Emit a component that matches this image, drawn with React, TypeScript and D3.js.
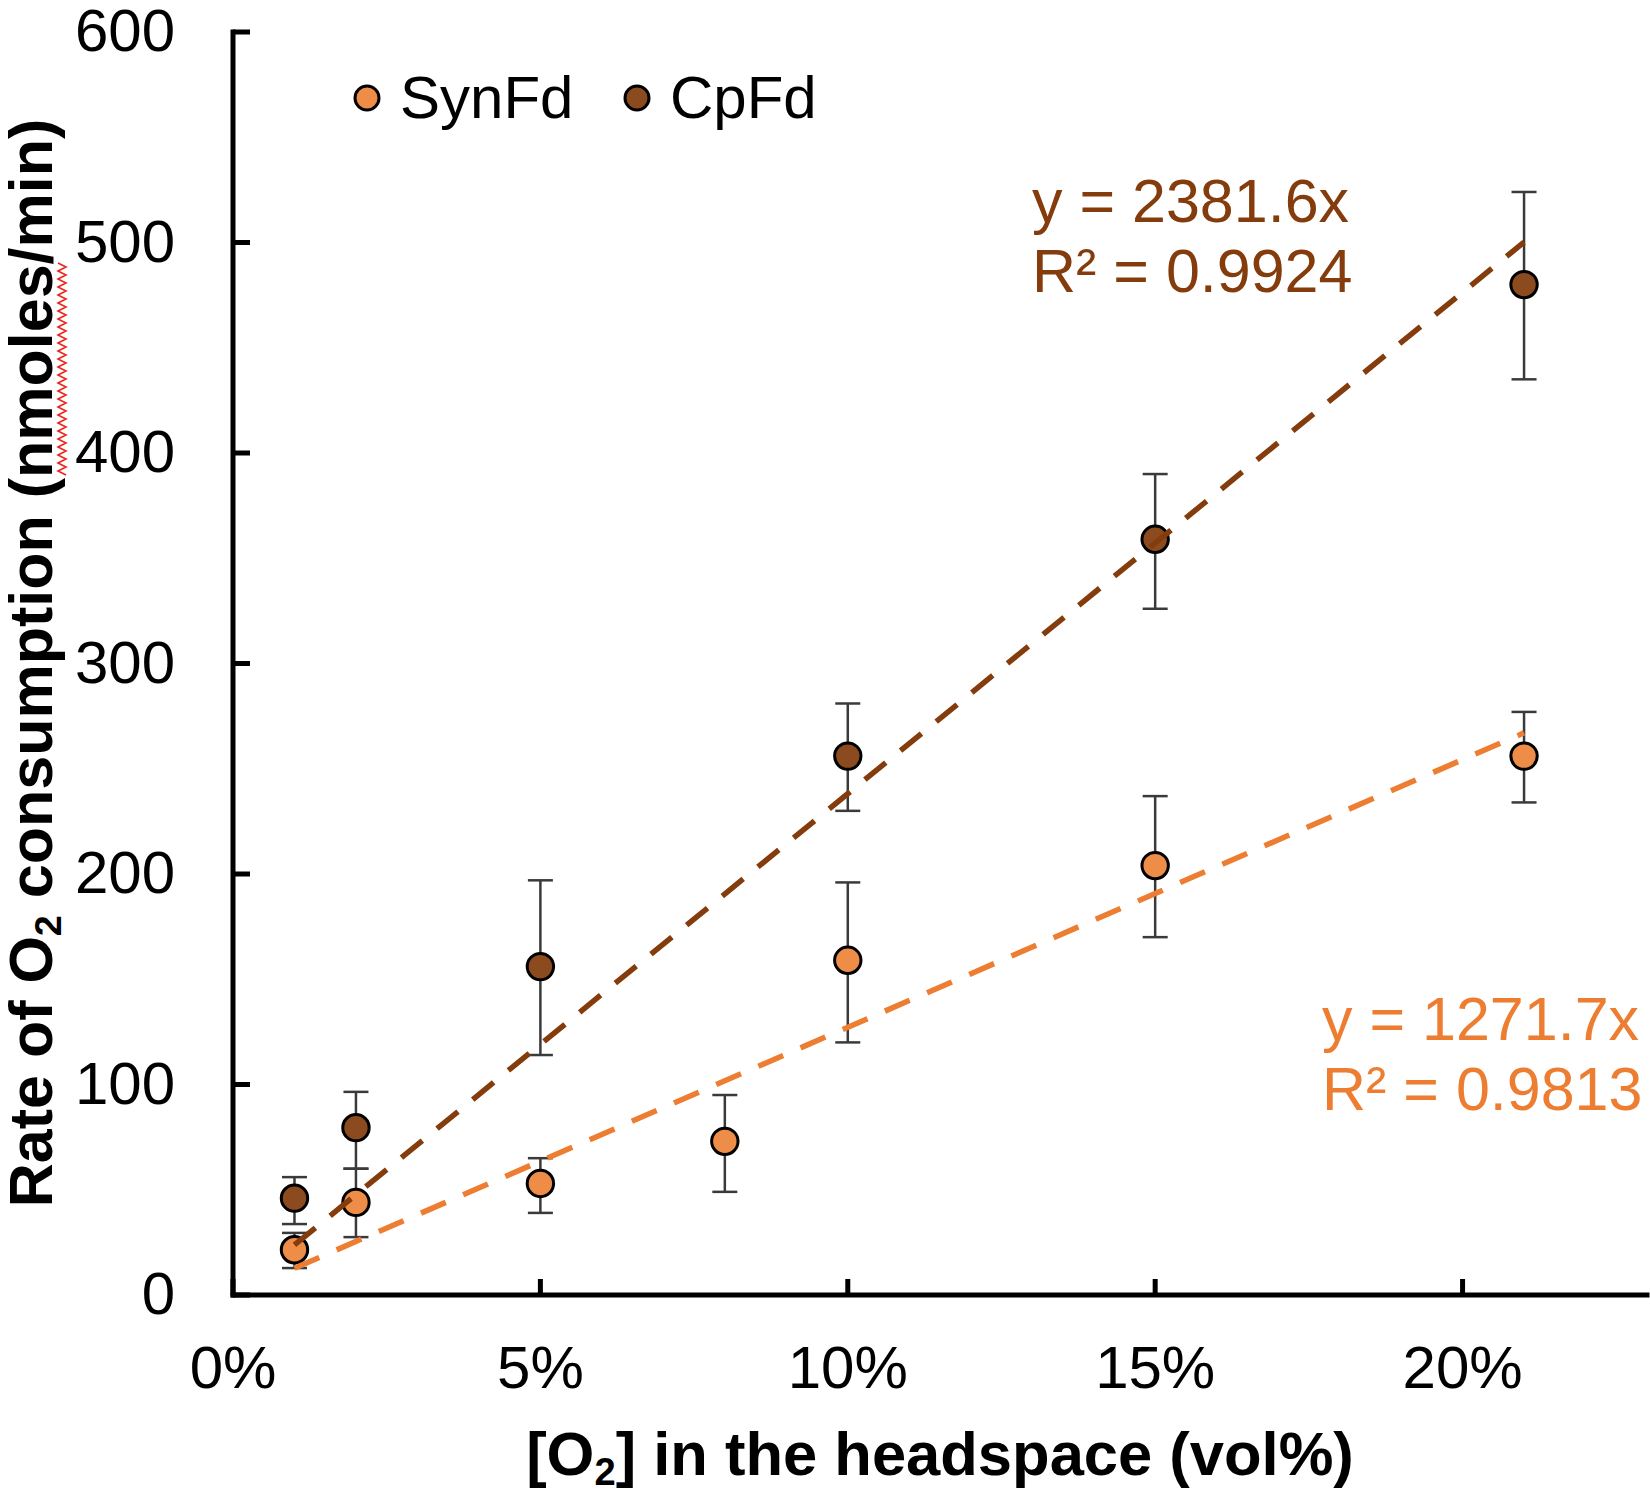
import React from "react";
import * as d3 from "d3";

// ---- data ----
const synX = [0.01, 0.02, 0.05, 0.08, 0.10, 0.15, 0.21];
const synY = [21.5, 44, 53, 73, 159, 204, 256];
const synLo = [12.8, 27.5, 39, 49, 120, 170, 234];
const synHi = [29.5, 60, 65, 95, 196, 237, 277];

const cpX = [0.01, 0.02, 0.05, 0.10, 0.15, 0.21];
const cpY = [46, 79.5, 156, 256, 359, 480];
const cpLo = [33.7, 60, 114, 230, 326, 435];
const cpHi = [56, 96.5, 197, 281, 390, 524];

const synSlope = 1271.7;
const synR2 = 0.9813;
const cpSlope = 2381.6;
const cpR2 = 0.9924;

const yTicks = [0, 100, 200, 300, 400, 500, 600];
const xTicks = [0, 0.05, 0.1, 0.15, 0.2];
const seriesNames = ["SynFd", "CpFd"];

const FONT = "'Liberation Sans', Arial, sans-serif";

const C = {
  synFill: "#EE8D48",
  synLine: "#ED7D31",
  cpFill: "#8C4A1F",
  cpLine: "#843C0C",
  err: "#3a3a3a",
};

export default function App() {
  const W = 1650;
  const H = 1491;
  const x = d3.scaleLinear().domain([0, 0.23]).range([233, 1647]);
  const y = d3.scaleLinear().domain([0, 600]).range([1295, 32]);
  const fmtPct = d3.format(".0%");
  const line = d3
    .line<[number, number]>()
    .x((d) => x(d[0]))
    .y((d) => y(d[1]));

  const series = [
    { name: seriesNames[0], xs: synX, ys: synY, lo: synLo, hi: synHi, fill: C.synFill, lc: C.synLine, slope: synSlope, r2: synR2 },
    { name: seriesNames[1], xs: cpX, ys: cpY, lo: cpLo, hi: cpHi, fill: C.cpFill, lc: C.cpLine, slope: cpSlope, r2: cpR2 },
  ];

  // spell-check squiggle decoration
  const zig: string[] = [];
  for (let i = 0, yy = 263; yy <= 477; i++, yy += 4) {
    zig.push(`${i === 0 ? "M" : "L"}${i % 2 === 0 ? 58 : 66},${yy}`);
  }

  const annot = [
    { s: series[1], x: 1032, y1: 222 },
    { s: series[0], x: 1322, y1: 1040 },
  ];

  return (
    <svg
      width={W}
      height={H}
      style={{ position: "absolute", left: 0, top: 0, background: "#fff", display: "block" }}
      fontFamily={FONT}
    >
      <rect width={W} height={H} fill="#fff" />
      {/* axes */}
      <line x1={x(0)} x2={x(0)} y1={y(600)} y2={y(0)} stroke="#000" strokeWidth={5} strokeLinecap="square" />
      <line x1={x(0)} x2={x(0.23)} y1={y(0)} y2={y(0)} stroke="#000" strokeWidth={5} strokeLinecap="square" />
      {yTicks.map((t) => (
        <g key={"yt" + t}>
          <line x1={x(0)} x2={x(0) + 17} y1={y(t)} y2={y(t)} stroke="#000" strokeWidth={5} />
          <text x={175} y={y(t) + 19} textAnchor="end" fontSize={60} fill="#000">
            {t}
          </text>
        </g>
      ))}
      {xTicks.map((t) => (
        <g key={"xt" + t}>
          <line x1={x(t)} x2={x(t)} y1={y(0)} y2={y(0) - 16} stroke="#000" strokeWidth={5} />
          <text x={x(t)} y={1388} textAnchor="middle" fontSize={60} fill="#000">
            {fmtPct(t)}
          </text>
        </g>
      ))}

      {/* axis titles */}
      <text x={940} y={1475} textAnchor="middle" fontSize={61.5} fontWeight="bold" fill="#000">
        [O<tspan fontSize="0.62em" dy="0.25em">2</tspan>
        <tspan dy="-0.155em">] in the headspace (vol%)</tspan>
      </text>
      <text
        transform={`translate(52,663) rotate(-90)`}
        textAnchor="middle"
        fontSize={61}
        fontWeight="bold"
        fill="#000"
      >
        Rate of O<tspan fontSize="0.62em" dy="0.25em">2</tspan>
        <tspan dy="-0.155em"> consumption (nmoles/min)</tspan>
      </text>
      <path d={zig.join("")} fill="none" stroke="#e8261c" strokeWidth={1.6} />

      {/* error bars */}
      {series.map((s) =>
        s.xs.map((xv, i) => (
          <g key={s.name + "e" + i} stroke={C.err} strokeWidth={2.5}>
            <line x1={x(xv)} x2={x(xv)} y1={y(s.hi[i])} y2={y(s.lo[i])} />
            <line x1={x(xv) - 12.5} x2={x(xv) + 12.5} y1={y(s.hi[i])} y2={y(s.hi[i])} />
            <line x1={x(xv) - 12.5} x2={x(xv) + 12.5} y1={y(s.lo[i])} y2={y(s.lo[i])} />
          </g>
        ))
      )}
      {/* markers */}
      {series.map((s) =>
        s.xs.map((xv, i) => (
          <circle key={s.name + "m" + i} cx={x(xv)} cy={y(s.ys[i])} r={13.2} fill={s.fill} stroke="#000" strokeWidth={3} />
        ))
      )}
      {/* trendlines */}
      {series.map((s) => {
        const x0 = d3.min(s.xs)!;
        const x1 = d3.max(s.xs)!;
        return (
          <path
            key={s.name + "t"}
            d={line([
              [x0, s.slope * x0],
              [x1, s.slope * x1],
            ])!}
            fill="none"
            stroke={s.lc}
            strokeWidth={5.5}
            strokeDasharray="27 19"
          />
        );
      })}

      {/* trendline labels */}
      {annot.map((a) => (
        <g key={a.s.name + "a"} fill={a.s.lc} fontSize={61}>
          <text x={a.x} y={a.y1}>{`y = ${a.s.slope}x`}</text>
          <text x={a.x} y={a.y1 + 70}>{`R² = ${a.s.r2}`}</text>
        </g>
      ))}

      {/* legend */}
      {series.map((s, i) => {
        const mx = i === 0 ? 367 : 637;
        return (
          <g key={s.name + "l"}>
            <circle cx={mx} cy={98} r={12} fill={s.fill} stroke="#000" strokeWidth={3} />
            <text x={mx + 33} y={118} fontSize={60} fill="#000">
              {s.name}
            </text>
          </g>
        );
      })}
    </svg>
  );
}
